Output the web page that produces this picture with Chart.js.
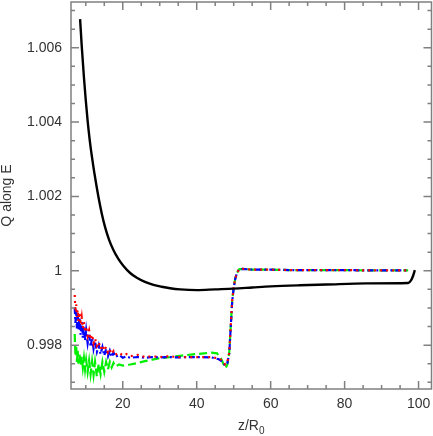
<!DOCTYPE html>
<html>
<head>
<meta charset="utf-8">
<script src="https://cdn.jsdelivr.net/npm/chart.js@4.4.0/dist/chart.umd.min.js"></script>
<style>
  html, body { margin: 0; padding: 0; background: #fff; }
  #wrap { width: 433px; height: 436px; }
</style>
</head>
<body>
<div id="wrap"><canvas id="chart" width="433" height="436"></canvas></div>
<script>
// data (x = z/R0, y = Q along E)
const xTickValues = [20, 40, 60, 80, 100];
const xTickLabels = ['20', '40', '60', '80', '100'];
const yTickValues = [0.998, 1, 1.002, 1.004, 1.006];
const yTickLabels = ['0.998', '1', '1.002', '1.004', '1.006'];

// black solid curve
const blackX = [8.46, 8.9, 9.5, 10.0, 10.5, 11.0, 11.5, 12.05, 12.7, 13.4, 14.3, 15.2, 16.3, 17.5, 18.8, 20.2, 22, 23.8, 26, 28.3, 30.5, 32.8, 35.5, 40, 45, 50, 55, 60, 67.9, 75, 85.9, 97.2, 98.0, 98.5, 99.0];
const blackY = [1.00677, 1.00605, 1.0052, 1.00458, 1.00403, 1.00357, 1.00318, 1.0028, 1.0024, 1.0020, 1.00155, 1.00118, 1.00083, 1.00055, 1.00032, 1.00013, 0.99994, 0.99981, 0.9997, 0.99962, 0.99957, 0.99953, 0.9995, 0.99948, 0.9995, 0.99952, 0.99955, 0.99958, 0.99961, 0.99963, 0.99966, 0.99967, 0.99975, 0.99986, 1.00002];

// red dotted curve
const redX = [7.0, 7.2, 7.4, 7.6, 7.8, 8.0, 8.3, 8.6, 8.9, 9.2, 9.5, 9.8, 10.1, 10.5, 10.9, 11.3, 11.7, 12.1, 12.5, 13, 13.5, 14, 14.5, 15, 15.5, 16, 16.5, 17, 17.5, 18, 19, 20, 21, 22, 24, 26, 28, 30, 32, 35, 38, 41, 44, 46, 47, 47.7, 48.3, 48.8, 49.2, 49.6, 50.0, 50.4, 50.9, 51.5, 52.5, 55, 60, 65, 70, 75, 80, 85, 90, 95, 97.2];
const redY = [0.99935, 0.9989, 0.9991, 0.99875, 0.99895, 0.99865, 0.99888, 0.99855, 0.99875, 0.99845, 0.99862, 0.99835, 0.9985, 0.99825, 0.9984, 0.99815, 0.99828, 0.99805, 0.99818, 0.99798, 0.99808, 0.9979, 0.998, 0.99785, 0.99795, 0.9978, 0.99788, 0.99776, 0.99784, 0.99774, 0.9978, 0.99772, 0.99776, 0.9977, 0.99774, 0.99768, 0.9977, 0.99768, 0.9977, 0.99768, 0.99768, 0.99768, 0.99768, 0.99764, 0.99758, 0.99748, 0.99755, 0.9978, 0.9985, 0.9992, 0.99955, 0.99978, 0.99995, 1.00004, 1.00005, 1.00003, 1.00003, 1.00002, 1.00002, 1.00002, 1.00002, 1.00001, 1.00001, 1.00001, 1.00001];

// blue dash-dot curve
const blueX = [7.0, 7.2, 7.4, 7.6, 7.8, 8.0, 8.3, 8.6, 8.9, 9.2, 9.5, 9.8, 10.1, 10.5, 10.9, 11.3, 11.7, 12.1, 12.5, 13, 13.5, 14, 14.5, 15, 15.5, 16, 16.5, 17, 17.5, 18, 19, 20, 21, 22, 24, 26, 28, 30, 32, 35, 38, 41, 44, 46, 47, 47.7, 48.3, 48.8, 49.2, 49.6, 50.0, 50.4, 50.9, 51.5, 52.5, 55, 60, 65, 70, 75, 80, 85, 90, 95, 97.2];
const blueY = [0.9990, 0.9986, 0.99895, 0.99845, 0.99885, 0.9984, 0.99875, 0.99828, 0.99862, 0.9982, 0.9985, 0.99812, 0.9984, 0.99805, 0.9983, 0.99795, 0.9982, 0.9979, 0.9981, 0.99782, 0.998, 0.99776, 0.99795, 0.99772, 0.9979, 0.9977, 0.99785, 0.99768, 0.9978, 0.99768, 0.99774, 0.99766, 0.9977, 0.99766, 0.99768, 0.99766, 0.99768, 0.99767, 0.99768, 0.99767, 0.99768, 0.99768, 0.99767, 0.99762, 0.99755, 0.99745, 0.99752, 0.99778, 0.99848, 0.99918, 0.99953, 0.99977, 0.99995, 1.00004, 1.00005, 1.00003, 1.00003, 1.00002, 1.00002, 1.00002, 1.00002, 1.00001, 1.00001, 1.00001, 1.00001];

// green dashed curve
const greenX = [7.0, 7.2, 7.4, 7.6, 7.8, 8.0, 8.3, 8.6, 8.9, 9.2, 9.5, 9.8, 10.1, 10.5, 10.9, 11.3, 11.7, 12.1, 12.5, 13, 13.5, 14, 14.5, 15, 15.5, 16, 16.5, 17, 17.5, 18, 19, 20, 22, 24, 26, 28, 30, 33, 36, 39, 42, 44, 45.5, 46.5, 47.3, 47.8, 48.3, 48.8, 49.2, 49.6, 50.0, 50.4, 50.9, 51.5, 52.5, 55, 60, 65, 70, 75, 80, 85, 90, 95, 97.2];
const greenY = [0.9983, 0.9977, 0.998, 0.99755, 0.99785, 0.9975, 0.99775, 0.99745, 0.9977, 0.9974, 0.99765, 0.99735, 0.9976, 0.99728, 0.99758, 0.99722, 0.99756, 0.9972, 0.99755, 0.99716, 0.9975, 0.99722, 0.99755, 0.99728, 0.99755, 0.99735, 0.99755, 0.9974, 0.99752, 0.99742, 0.99748, 0.99745, 0.99748, 0.99752, 0.99757, 0.99761, 0.99765, 0.99768, 0.99772, 0.99775, 0.99778, 0.9978, 0.99778, 0.99765, 0.99748, 0.99738, 0.99748, 0.9978, 0.9985, 0.9992, 0.99955, 0.99978, 0.99995, 1.00004, 1.00005, 1.00003, 1.00003, 1.00002, 1.00002, 1.00002, 1.00002, 1.00001, 1.00001, 1.00001, 1.00001];

function pts(xs, ys) {
  return xs.map((x, i) => ({ x: x, y: ys[i] }));
}

const FONT = '"Liberation Sans", Arial, sans-serif';
const TEXT = '#333';
const AXIS = '#808080';

// frame, inward ticks on all four sides, axis titles
const framePlugin = {
  id: 'frame',
  afterDraw(chart) {
    const { ctx, chartArea: a, scales } = chart;
    const xs = scales.x, ys = scales.y;
    ctx.save();
    ctx.strokeStyle = AXIS;
    ctx.lineWidth = 1.5;
    ctx.strokeRect(a.left, a.top, a.right - a.left, a.bottom - a.top);

    ctx.beginPath();
    // x ticks, every 5, major on 20s
    for (let v = 10; v <= xs.max; v += 5) {
      const p = xs.getPixelForValue(v);
      if (p < a.left || p > a.right) continue;
      const len = xTickValues.includes(v) ? 8 : 4;
      ctx.moveTo(p, a.bottom); ctx.lineTo(p, a.bottom - len);
      ctx.moveTo(p, a.top); ctx.lineTo(p, a.top + len);
    }
    // y ticks, every 0.0005
    for (let k = 0; k < 40; k++) {
      const v = 0.997 + k * 0.0005;
      if (v < ys.min || v > ys.max) continue;
      const p = ys.getPixelForValue(v);
      const major = yTickValues.some(t => Math.abs(t - v) < 1e-7);
      const len = major ? 8 : 4;
      ctx.moveTo(a.left, p); ctx.lineTo(a.left + len, p);
      ctx.moveTo(a.right, p); ctx.lineTo(a.right - len, p);
    }
    ctx.stroke();

    // axis titles
    ctx.fillStyle = TEXT;
    ctx.font = '14px ' + FONT;
    ctx.textBaseline = 'alphabetic';
    const cx = (a.left + a.right) / 2;
    const main = 'z/R';
    const wMain = ctx.measureText(main).width;
    ctx.font = '10px ' + FONT;
    const wSub = ctx.measureText('0').width;
    const start = cx - (wMain + wSub) / 2;
    ctx.font = '14px ' + FONT;
    ctx.textAlign = 'left';
    ctx.fillText(main, start, 430);
    ctx.font = '10px ' + FONT;
    ctx.fillText('0', start + wMain, 434);

    ctx.font = '14px ' + FONT;
    ctx.translate(11, (a.top + a.bottom) / 2);
    ctx.rotate(-Math.PI / 2);
    ctx.textAlign = 'center';
    ctx.fillText('Q along E', 0, 0);
    ctx.restore();
  }
};

const ds = (label, data, color, dash, width) => ({
  label: label,
  data: data,
  borderColor: color,
  backgroundColor: color,
  borderWidth: width,
  borderDash: dash,
  pointRadius: 0,
  tension: 0,
  fill: false
});

const blackSet = ds('black', pts(blackX, blackY), '#000000', [], 2.4);
blackSet.cubicInterpolationMode = 'monotone';

new Chart(document.getElementById('chart').getContext('2d'), {
  type: 'line',
  data: {
    datasets: [
      blackSet,
      ds('red', pts(redX, redY), '#ff0000', [2, 4], 2.2),
      ds('blue', pts(blueX, blueY), '#0000ff', [6, 3, 2, 3], 2.2),
      ds('green', pts(greenX, greenY), '#00ee00', [8, 4], 2.2)
    ]
  },
  options: {
    responsive: false,
    animation: false,
    devicePixelRatio: 1,
    layout: { padding: { top: 2, right: 1.5, left: 0, bottom: 0 } },
    plugins: { legend: { display: false }, tooltip: { enabled: false } },
    scales: {
      x: {
        type: 'linear',
        min: 6,
        max: 103.5,
        afterBuildTicks: s => { s.ticks = xTickValues.map(v => ({ value: v })); },
        afterFit: s => { s.height = 47; s.paddingLeft = 0; s.paddingRight = 0; },
        grid: { display: false, drawTicks: false },
        border: { display: false },
        ticks: {
          padding: 7,
          maxRotation: 0,
          color: TEXT,
          font: { family: FONT, size: 14 },
          callback: v => xTickLabels[xTickValues.indexOf(v)]
        }
      },
      y: {
        type: 'linear',
        min: 0.99682,
        max: 1.00723,
        afterBuildTicks: s => { s.ticks = yTickValues.map(v => ({ value: v })); },
        afterFit: s => { s.width = 71; s.paddingTop = 0; s.paddingBottom = 0; },
        grid: { display: false, drawTicks: false },
        border: { display: false },
        ticks: {
          padding: 9,
          color: TEXT,
          font: { family: FONT, size: 14 },
          callback: v => {
            const i = yTickValues.findIndex(t => Math.abs(t - v) < 1e-7);
            return i >= 0 ? yTickLabels[i] : '';
          }
        }
      }
    }
  },
  plugins: [framePlugin]
});
</script>
</body>
</html>
